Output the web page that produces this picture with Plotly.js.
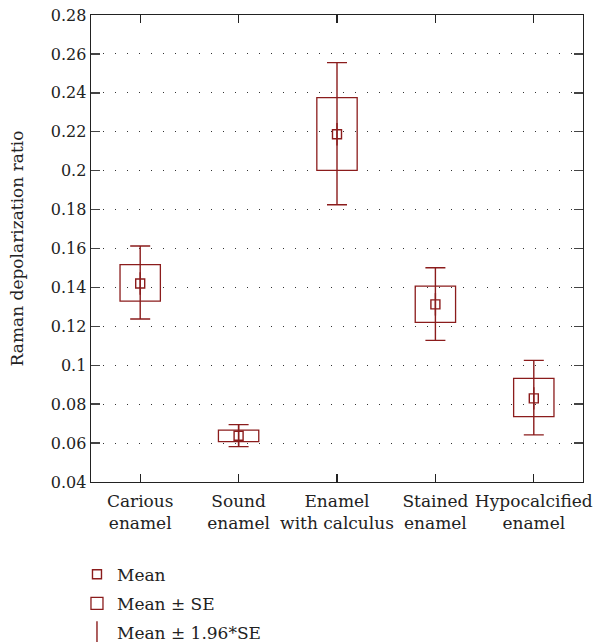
<!DOCTYPE html>
<html>
<head>
<meta charset="utf-8">
<script src="https://cdn.plot.ly/plotly-3.0.1.min.js"></script>
<style>html,body{margin:0;padding:0;background:#fff;}#chart{width:593px;height:642px;}</style>
</head>
<body>
<div id="chart"></div>
<script>
// ---- data ----
const categories = ['Carious enamel', 'Sound enamel', 'Enamel with calculus', 'Stained enamel', 'Hypocalcified enamel'];
const tickLabels = ['Carious<br>enamel', 'Sound<br>enamel', 'Enamel<br>with calculus', 'Stained<br>enamel', 'Hypocalcified<br>enamel'];
const means  = [0.1420, 0.0638, 0.2187, 0.1313, 0.0830];
const seLow  = [0.1330, 0.0607, 0.2002, 0.1220, 0.0736];
const seHigh = [0.1517, 0.0667, 0.2375, 0.1407, 0.0933];
const ciLow  = [0.1238, 0.0582, 0.1825, 0.1128, 0.0642];
const ciHigh = [0.1613, 0.0695, 0.2555, 0.1501, 0.1025];
const yTickVals = [0.04, 0.06, 0.08, 0.1, 0.12, 0.14, 0.16, 0.18, 0.2, 0.22, 0.24, 0.26, 0.28];

const RED = '#8b1c1c';
const FONT = 'DejaVu Serif, Liberation Serif, serif';

const seTrace = {
  type: 'bar', name: 'Mean ± SE', x: categories,
  base: seLow, y: seHigh.map((v, i) => v - seLow[i]),
  width: 0.41, marker: {color: 'rgba(0,0,0,0)', line: {color: RED, width: 1.3}},
  hoverinfo: 'skip', legendrank: 2, legendgroup: 'g2'
};
const ciTrace = {
  type: 'scatter', mode: 'markers', name: 'Mean ± 1.96*SE', x: categories, y: means,
  marker: {symbol: 'line-ns-open', size: 16, color: RED, line: {color: RED, width: 1.4}},
  error_y: {type: 'data', symmetric: false,
    array: ciHigh.map((v, i) => v - means[i]),
    arrayminus: ciLow.map((v, i) => means[i] - v),
    color: RED, thickness: 1.4, width: 10},
  hoverinfo: 'skip', legendrank: 3, legendgroup: 'g3'
};
const meanTrace = {
  type: 'scatter', mode: 'markers', name: 'Mean', x: categories, y: means,
  marker: {symbol: 'square-open', size: 9, color: RED, line: {color: RED, width: 1.4}},
  hoverinfo: 'skip', legendrank: 1, legendgroup: 'g1'
};

const layout = {
  width: 593, height: 642,
  margin: {l: 91, r: 10, t: 15, b: 160, autoexpand: false},
  paper_bgcolor: '#fff', plot_bgcolor: '#fff',
  font: {family: FONT, size: 17, color: '#222'},
  showlegend: true,
  legend: {x: -0.0285, xanchor: 'left', y: -0.16, yanchor: 'top',
           orientation: 'v', tracegroupgap: 4,
           font: {family: FONT, size: 17, color: '#222'}, bgcolor: 'rgba(0,0,0,0)'},
  xaxis: {
    type: 'category', range: [-0.5, 4.5], tickvals: categories, ticktext: tickLabels,
    ticks: 'inside', ticklen: 8, tickwidth: 1.4, tickcolor: '#222', ticklabelstandoff: 3,
    tickangle: 0,
    showline: true, linecolor: '#222', linewidth: 1.4, mirror: 'ticks',
    showgrid: false, zeroline: false, tickfont: {family: FONT, size: 17, color: '#222'}
  },
  yaxis: {
    range: [0.04, 0.28], tickvals: yTickVals, tickformat: '~g',
    ticks: 'inside', ticklen: 9, tickwidth: 1.4, tickcolor: '#444',
    showline: true, linecolor: '#222', linewidth: 1.4, mirror: 'ticks',
    showgrid: true, gridcolor: '#333', gridwidth: 1, griddash: '1px,11px',
    zeroline: false, tickfont: {family: FONT, size: 16, color: '#222'},
    title: {text: 'Raman depolarization ratio', font: {family: FONT, size: 17, color: '#222'}, standoff: 23}
  }
};

Plotly.newPlot('chart', [seTrace, ciTrace, meanTrace], layout, {staticPlot: true, displayModeBar: false});
</script>
</body>
</html>
